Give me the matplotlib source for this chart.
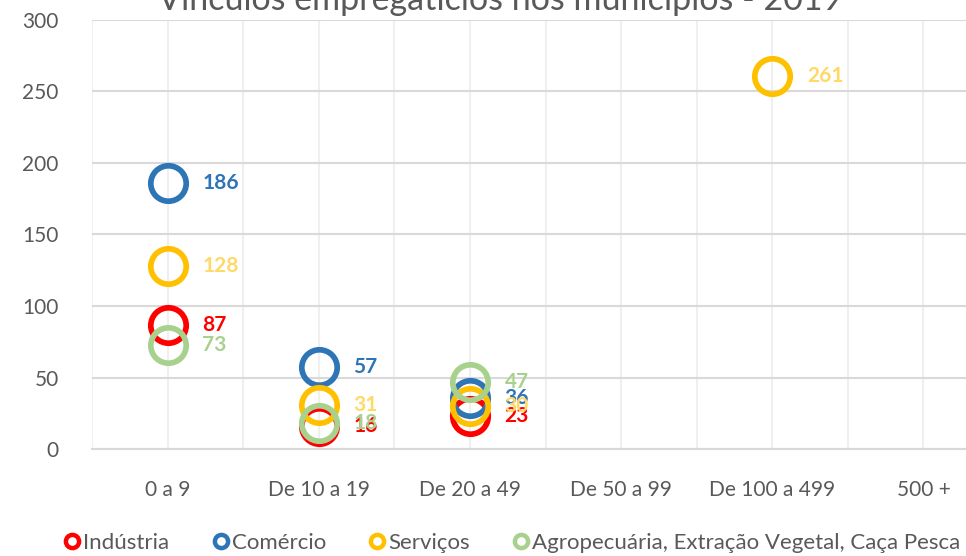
import matplotlib
matplotlib.use("Agg")
import matplotlib.pyplot as plt
from matplotlib.lines import Line2D

categories = ["0 a 9", "De 10 a 19", "De 20 a 49", "De 50 a 99", "De 100 a 499", "500 +"]
industria = [87, 16, 23, None, None, None]
comercio = [186, 57, 36, None, None, None]
servicos = [128, 31, 30, None, 261, None]
agro = [73, 18, 47, None, None, None]
series_names = ["Indústria", "Comércio", "Serviços", "Agropecuária, Extração Vegetal, Caça Pesca"]
title = "Vínculos empregatícios nos municípios - 2019"

marker_colors = ["#FF0000", "#2E75B6", "#FFC000", "#A9D18E"]
label_colors = ["#FF0000", "#2E75B6", "#FFD966", "#A9D18E"]

plt.rcParams['font.family'] = ['Lato', 'DejaVu Sans']

fig = plt.figure(figsize=(9.66, 5.56), dpi=100)
ax = fig.add_axes([92/966, 1-449/556, (999-92)/966, (449-20)/556])

ax.set_xlim(0.5, 6.5)
ax.set_ylim(0, 300)
ax.set_yticks(range(0, 301, 50))
ax.set_xticks(range(1, 7))
ax.set_xticklabels(categories)
ax.set_xticks([i + 0.5 for i in range(0, 7)], minor=True)

for spine in ["top", "right", "left"]:
    ax.spines[spine].set_visible(False)
ax.spines["bottom"].set_color("#D9D9D9")
ax.spines["bottom"].set_linewidth(1.5)

ax.grid(axis="y", which="major", color="#D9D9D9", linewidth=1.5, zorder=0)
ax.grid(axis="x", which="both", color="#EFEFEF", linewidth=1.5, zorder=0)
ax.tick_params(axis="both", which="both", length=0, labelsize=15, colors="#595959")
ax.tick_params(axis="x", pad=22)
ax.tick_params(axis="y", pad=24)
ax.set_axisbelow(True)

all_series = [industria, comercio, servicos, agro]
for s, (vals, mc, lc) in enumerate(zip(all_series, marker_colors, label_colors)):
    xs = [i + 1 for i, v in enumerate(vals) if v is not None]
    ys = [v for v in vals if v is not None]
    ax.plot(xs, ys, linestyle="none", marker="o", markersize=25.5, markerfacecolor="none",
            markeredgecolor=mc, markeredgewidth=4.1, zorder=3 + s, clip_on=False)
    for x, y in zip(xs, ys):
        ax.annotate(str(y), (x, y), xytext=(25, 0), textcoords="offset points",
                    ha="left", va="center", fontsize=15, fontweight="bold", color=lc,
                    zorder=10 + s)

fig.text(0.518, 1 - 10/556, title, ha="center", va="baseline", fontsize=24.5, color="#595959")

handles = [Line2D([], [], linestyle="none", marker="o", markersize=9.5, markerfacecolor="none",
                  markeredgecolor=c, markeredgewidth=3.2) for c in marker_colors]
leg = fig.legend(handles, series_names, loc="center", bbox_to_anchor=(513/966, 1 - 543/556),
                 ncol=4, frameon=False, fontsize=16, handlelength=0.6, handletextpad=0.2,
                 columnspacing=2.0, borderaxespad=0, borderpad=0)
for t in leg.get_texts():
    t.set_color("#595959")

fig.savefig("out.png", dpi=100)
